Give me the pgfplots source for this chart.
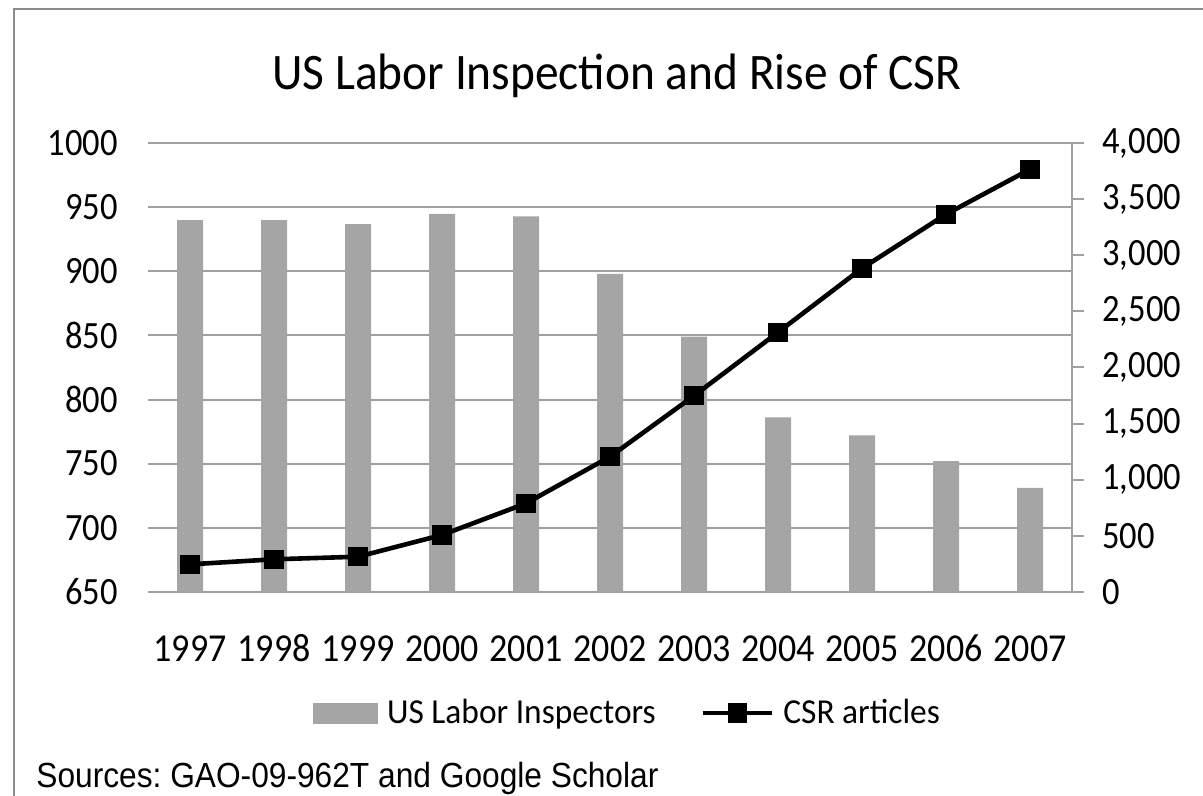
\documentclass[border=0pt]{standalone}
\usepackage{pgfplots}
\pgfplotsset{compat=1.18}
\usepackage{fontspec}
\setmainfont{Carlito}
\newfontfamily\arialfont{Liberation Sans}
\definecolor{barGray}{HTML}{A5A5A5}
\definecolor{gridGray}{HTML}{A0A0A0}
\definecolor{frameGray}{HTML}{8C8C8C}

\pgfplotstableread{
idx inspectors csr
0  940  244
1  940  289
2  937  312
3  945  506
4  943  788
5  898  1204
6  849  1748
7  786  2314
8  772  2885
9  752  3367
10 731  3768
}\datatable

\begin{document}
\frenchspacing
\begin{tikzpicture}
\useasboundingbox (0,0) rectangle (601.5pt,398pt);
\draw[frameGray, line width=0.8pt] (7pt,-5pt) -- (7pt,393.5pt) -- (610pt,393.5pt);
\node[anchor=base, inner sep=0pt, font=\fontsize{23.7}{28}\selectfont, yscale=1.08] at (308.5pt,353pt) {US Labor Inspection and Rise of CSR};
\node[anchor=base west, inner sep=0pt, font=\arialfont\fontsize{15.85}{19}\selectfont, yscale=1.1] at (18pt,4pt) {Sources: GAO-09-962T and Google Scholar};

\begin{axis}[
  at={(74pt,102.15pt)}, anchor=south west,
  scale only axis, width=462pt, height=224.2pt,
  xmin=-0.5, xmax=10.5, ymin=650, ymax=1000,
  xtick={0,1,2,3,4,5,6,7,8,9,10},
  xticklabels={1997,1998,1999,2000,2001,2002,2003,2004,2005,2006,2007},
  ytick={650,700,750,800,850,900,950,1000},
  ymajorgrids, grid style={gridGray, line width=1pt},
  axis line style={draw=none},
  major tick length=0pt,
  yticklabel style={font=\fontsize{17.25}{20}\selectfont, yscale=1.12, anchor=east, inner sep=0pt, xshift=-15pt},
  xticklabel style={font=\fontsize{18}{20}\selectfont, yscale=1.1, anchor=base, inner sep=0pt, yshift=-31.8pt},
  /pgf/number format/assume math mode=true,
  /pgf/number format/1000 sep={},
  clip=false,
]
\addplot[ybar, bar width=13pt, fill=barGray, draw=none] table[x=idx, y=inspectors] {\datatable};
\end{axis}

\begin{axis}[
  at={(74pt,102.15pt)}, anchor=south west,
  scale only axis, width=462pt, height=224.2pt,
  xmin=-0.5, xmax=10.5, ymin=0, ymax=4000,
  axis y line*=right, axis x line=none,
  ytick={0,500,1000,1500,2000,2500,3000,3500,4000},
  y axis line style={gridGray, line width=1pt},
  every y tick/.style={gridGray, line width=1pt},
  tick align=outside, major tick length=6pt,
  tick label style={font=\fontsize{17.25}{20}\selectfont, yscale=1.12},
  yticklabel style={anchor=west, inner sep=0pt, xshift=9pt},
  /pgf/number format/assume math mode=true,
  /pgf/number format/1000 sep={,},
  clip=false,
  legend style={draw=none, fill=none, at={(0.518,-0.2705)}, anchor=center,
    font=\fontsize{16.7}{20}\selectfont, inner sep=0pt,
    nodes={inner sep=0pt, yscale=1.05},
    /tikz/every odd column/.append style={column sep=4.5pt},
    /tikz/every even column/.append style={column sep=22.5pt}},
  legend columns=2, legend cell align=left,
]
\addlegendimage{legend image code/.code={\fill[barGray] (0pt,-5pt) rectangle (32pt,5pt);}}
\addlegendentry{US Labor Inspectors}
\addplot[black, line width=2.3pt, mark=square*, mark size=3.7pt, mark options={solid},
  legend image code/.code={\draw[black, line width=2.3pt, mark=square*, mark size=3.7pt, mark repeat=2, mark phase=2] plot coordinates {(0pt,0pt) (17.25pt,0pt) (34.5pt,0pt)};}]
  table[x=idx, y=csr] {\datatable};
\addlegendentry{CSR articles}
\end{axis}
\end{tikzpicture}
\end{document}
